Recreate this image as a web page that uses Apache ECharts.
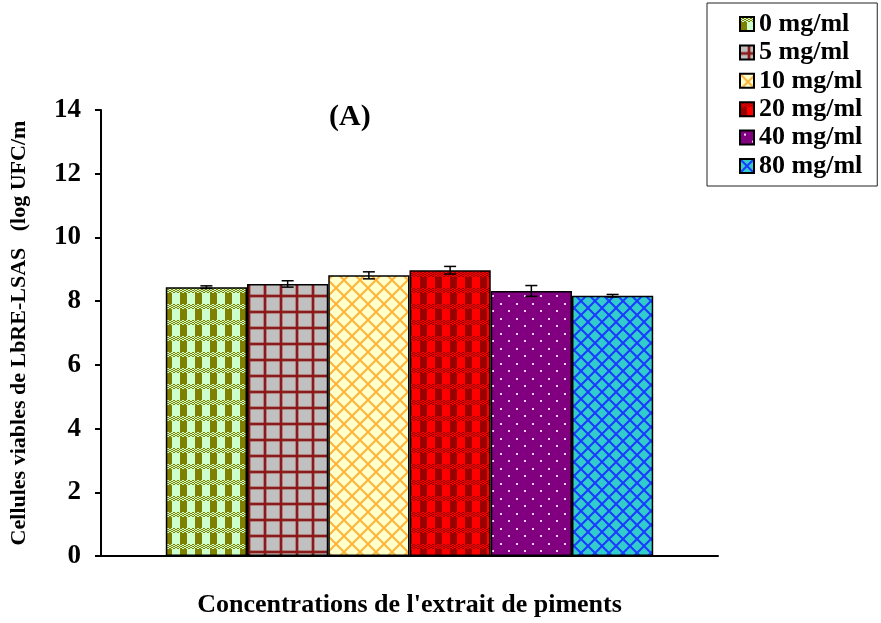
<!DOCTYPE html>
<html>
<head>
<meta charset="utf-8">
<script src="https://cdn.jsdelivr.net/npm/echarts@6/dist/echarts.min.js"></script>
<style>
html,body{margin:0;padding:0;background:#fff;}
#chart{width:881px;height:623px;}
</style>
</head>
<body>
<div id="chart"></div>
<script>
// ---- data ----
var categories = [''];
var seriesNames = ['0 mg/ml', '5 mg/ml', '10 mg/ml', '20 mg/ml', '40 mg/ml', '80 mg/ml'];
var values = [8.44, 8.54, 8.81, 8.97, 8.32, 8.17];
var errors = [0.04, 0.10, 0.11, 0.12, 0.17, 0.04];
var yTicks = [0, 2, 4, 6, 8, 10, 12, 14];

// ---- patterns ----
function makeCanvas(w, h, draw) {
  var c = document.createElement('canvas');
  c.width = w; c.height = h;
  var ctx = c.getContext('2d');
  draw(ctx, w, h);
  return c;
}
function plaid(bg, dark, w, h) {
  return makeCanvas(w, h, function (ctx) {
    ctx.fillStyle = bg; ctx.fillRect(0, 0, w, h);
    ctx.fillStyle = dark;
    for (var y = 0; y < 5; y++) {
      for (var x = 0; x < w; x++) {
        if (((x >> 1) + y) % 2 === 0) ctx.fillRect(x, y, 1, 1);
      }
    }
    ctx.fillRect(0, 5, 7, h - 5);
  });
}
function grid(bg, line, p) {
  return makeCanvas(p, p, function (ctx) {
    ctx.fillStyle = bg; ctx.fillRect(0, 0, p, p);
    ctx.fillStyle = 'rgba(150,20,20,0.35)';
    ctx.fillRect(7, 0, 4, p); ctx.fillRect(0, 6, p, 4);
    ctx.fillStyle = line;
    ctx.fillRect(8, 0, 2, p); ctx.fillRect(0, 7, p, 2);
  });
}
function lattice(bg, line, p, lw) {
  return makeCanvas(p, p, function (ctx) {
    ctx.fillStyle = bg; ctx.fillRect(0, 0, p, p);
    ctx.strokeStyle = line; ctx.lineWidth = lw;
    for (var k = -1; k <= 1; k++) {
      ctx.beginPath(); ctx.moveTo(k * p, 0); ctx.lineTo(k * p + p, p); ctx.stroke();
      ctx.beginPath(); ctx.moveTo(k * p + p, 0); ctx.lineTo(k * p, p); ctx.stroke();
    }
  });
}
function dots(bg, dot, w, h) {
  return makeCanvas(w, h, function (ctx) {
    ctx.fillStyle = bg; ctx.fillRect(0, 0, w, h);
    ctx.fillStyle = dot;
    ctx.fillRect(4, 3, 2, 2);
    ctx.fillRect(12, 10, 2, 2);
  });
}
var patterns = [
  plaid('#ccffcc', '#808000', 15, 16),
  grid('#c0c0c0', '#8b1a1a', 16),
  lattice('#ffffcc', '#ffb43c', 16, 2),
  plaid('#ff0000', '#990000', 15, 16),
  dots('#800080', '#ffd0ff', 16, 15),
  lattice('#33cccc', '#1a3cff', 14, 2)
];

var serif = '"Liberation Serif", "Times New Roman", serif';

var series = seriesNames.map(function (name, i) {
  return {
    name: name,
    type: 'bar',
    barGap: '0%',
    barCategoryGap: '21%',
    data: [values[i]],
    itemStyle: {
      color: { image: patterns[i], repeat: 'repeat' },
      borderColor: '#000',
      borderWidth: 1.5
    }
  };
});

var errData = values.map(function (v, i) { return [i, v, errors[i], 0]; });
series.push({
  type: 'custom',
  name: 'err',
  z: 10,
  encode: { x: 3, y: 1 },
  data: errData,
  renderItem: function (params, api) {
    var i = api.value(0), v = api.value(1), e = api.value(2);
    var c = api.coord([0, v]);
    var band = api.size([1, 0])[0];
    var total = band * (1 - 0.21);
    var bw = total / seriesNames.length;
    var x = c[0] - total / 2 + (i + 0.5) * bw;
    var yt = api.coord([0, v + e])[1];
    var yb = api.coord([0, v - e])[1];
    var cap = 6;
    var st = { stroke: '#000', lineWidth: 1.5 };
    return {
      type: 'group',
      children: [
        { type: 'line', shape: { x1: x, y1: yt, x2: x, y2: yb }, style: st },
        { type: 'line', shape: { x1: x - cap, y1: yt, x2: x + cap, y2: yt }, style: st },
        { type: 'line', shape: { x1: x - cap, y1: yb, x2: x + cap, y2: yb }, style: st }
      ]
    };
  }
});

var chart = echarts.init(document.getElementById('chart'));
chart.setOption({
  animation: false,
  backgroundColor: '#fff',
  grid: { left: 99, right: 163, top: 110, bottom: 65, containLabel: false },
  legend: {
    data: seriesNames,
    orient: 'vertical',
    left: 707,
    top: 3,
    icon: 'rect',
    itemWidth: 14,
    itemHeight: 14,
    itemGap: 2.4,
    padding: [8, 15, 7, 32],
    borderColor: '#222',
    borderWidth: 1,
    textStyle: { fontFamily: serif, fontWeight: 'bold', fontSize: 26, color: '#000' }
  },
  graphic: [{
    type: 'text',
    left: 329,
    top: 102,
    style: { text: '(A)', font: 'bold 30px ' + serif, fill: '#000' }
  }],
  xAxis: {
    type: 'category',
    data: categories,
    name: "Concentrations de l'extrait de piments",
    nameLocation: 'middle',
    nameGap: 36,
    nameTextStyle: { fontFamily: serif, fontWeight: 'bold', fontSize: 26, color: '#000' },
    axisLine: { lineStyle: { color: '#000', width: 2 } },
    axisTick: { show: false },
    axisLabel: { show: false }
  },
  yAxis: {
    type: 'value',
    min: 0,
    max: 14,
    interval: 2,
    name: 'Cellules viables de LbRE-LSAS   (log UFC/m',
    nameLocation: 'middle',
    nameRotate: 90,
    nameGap: 71,
    nameTextStyle: { fontFamily: serif, fontWeight: 'bold', fontSize: 22, color: '#000' },
    axisLine: { show: true, lineStyle: { color: '#000', width: 2 } },
    axisTick: { show: true, length: 6, lineStyle: { color: '#000', width: 2 } },
    axisLabel: {
      fontFamily: serif, fontWeight: 'bold', fontSize: 27, color: '#000', margin: 20,
      formatter: function (v) { return yTicks.indexOf(v) >= 0 ? String(v) : ''; }
    },
    splitLine: { show: false }
  },
  series: series
});
</script>
</body>
</html>
